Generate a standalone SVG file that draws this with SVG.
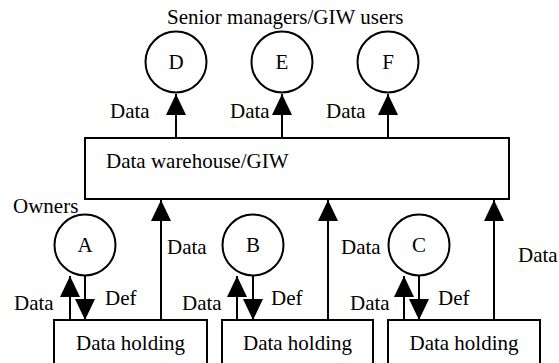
<svg xmlns="http://www.w3.org/2000/svg" width="559" height="363" viewBox="0 0 559 363">
<style>
text{font-family:"Liberation Serif","Times New Roman",serif;font-size:21px;fill:#000}
.c{text-anchor:middle}
.s{fill:#fff;stroke:#000;stroke-width:2}
.e line{stroke:#000;stroke-width:2;marker-end:url(#ah)}
</style>
<defs>
<marker id="ah" viewBox="0 0 21 20" refX="21" refY="10" markerWidth="21" markerHeight="20" markerUnits="userSpaceOnUse" orient="auto">
<path d="M0,0 L21,10 L0,20 z" fill="#000"/>
</marker>
</defs>
<rect width="559" height="363" fill="#fff"/>
<text x="167" y="24">Senior managers/GIW users</text>
<g id="D"><circle class="s" cx="176" cy="62" r="30.5"/><text class="c" x="176" y="69">D</text></g>
<g id="E"><circle class="s" cx="282" cy="62" r="30.5"/><text class="c" x="282" y="69">E</text></g>
<g id="F"><circle class="s" cx="388" cy="62" r="30.5"/><text class="c" x="388" y="69">F</text></g>
<g id="warehouse"><rect class="s" x="85" y="138" width="424" height="61"/><text x="106" y="168">Data warehouse/GIW</text></g>
<text x="13" y="213">Owners</text>
<g id="A"><circle class="s" cx="85" cy="245" r="30.5"/><text class="c" x="85" y="252">A</text></g>
<g id="B"><circle class="s" cx="253" cy="245" r="30.5"/><text class="c" x="253" y="252">B</text></g>
<g id="C"><circle class="s" cx="419" cy="245" r="30.5"/><text class="c" x="419" y="252">C</text></g>
<g id="holding1"><rect class="s" x="54" y="320" width="153" height="60"/><text class="c" x="130.5" y="350">Data holding</text></g>
<g id="holding2"><rect class="s" x="222" y="320" width="151" height="60"/><text class="c" x="297.5" y="350">Data holding</text></g>
<g id="holding3"><rect class="s" x="388" y="320" width="152" height="60"/><text class="c" x="464" y="350">Data holding</text></g>
<g id="connectors" class="e">
<line x1="176" y1="138" x2="176" y2="94"/>
<line x1="282" y1="138" x2="282" y2="94"/>
<line x1="388" y1="138" x2="388" y2="94"/>
<line x1="161" y1="320" x2="161" y2="200"/>
<line x1="328" y1="320" x2="328" y2="200"/>
<line x1="494" y1="320" x2="494" y2="200"/>
<line x1="70" y1="320" x2="70" y2="276"/>
<line x1="237" y1="320" x2="237" y2="276"/>
<line x1="404" y1="320" x2="404" y2="276"/>
<line x1="85" y1="275.5" x2="85" y2="320"/>
<line x1="253" y1="275.5" x2="253" y2="320"/>
<line x1="419" y1="275.5" x2="419" y2="320"/>
</g>
<g id="labels">
<text x="110" y="118">Data</text>
<text x="230" y="118">Data</text>
<text x="326" y="118">Data</text>
<text x="167" y="254">Data</text>
<text x="341" y="254">Data</text>
<text x="518" y="262">Data</text>
<text x="14" y="310">Data</text>
<text x="182" y="310">Data</text>
<text x="350" y="310">Data</text>
<text x="105" y="305">Def</text>
<text x="271" y="305">Def</text>
<text x="438" y="305">Def</text>
</g>
</svg>
